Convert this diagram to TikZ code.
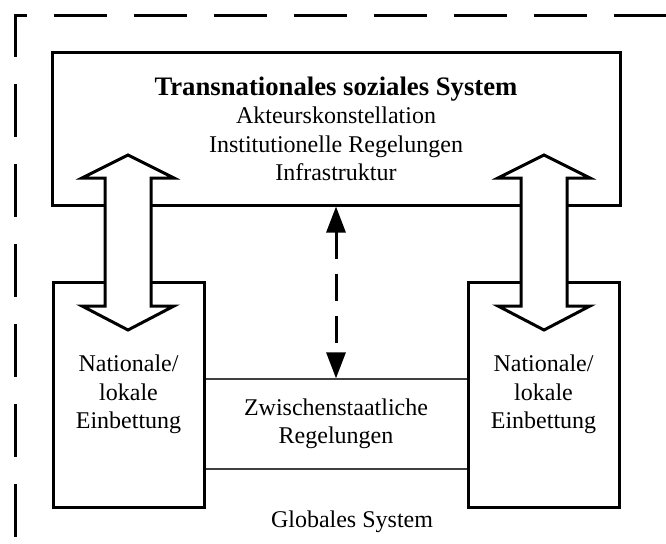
\documentclass[tikz,border=0pt]{standalone}
\usepackage{fontspec}
\setmainfont{Liberation Serif}
\usetikzlibrary{arrows.meta}

\begin{document}
\begin{tikzpicture}[x=1pt, y=-1pt,
  font=\fontsize{24}{28.5}\selectfont,
  box/.style={draw, line width=3pt, align=center, inner sep=0pt},
  thinbox/.style={draw=black!75, line width=1.2pt, align=center, inner sep=0pt},
  plaintext/.style={align=center, inner sep=0pt},
  blockarrow/.style={draw, fill=white, line width=3pt, line join=miter},
  frame/.style={line width=3pt, dash pattern=on 53pt off 27pt, dash phase=74pt},
  link/.style={line width=3pt, dash pattern=on 27pt off 15pt,
    {Triangle[width=19pt,length=26pt]}-{Triangle[width=19pt,length=26pt]}}]

\useasboundingbox (0,0) rectangle (666,543);

% outer frame (global system)
\coordinate (fb) at (15,543);
\coordinate (fc) at (15,16);
\coordinate (fr) at (666,16);
\draw [frame] (fb) -- (fc) -- (fr);

% boxes
\node [box, minimum width=568pt, minimum height=152pt] (trans) at (336,129)
  {{\fontsize{26.7}{28.5}\selectfont\bfseries Transnationales soziales System}\\Akteurskonstellation\\Institutionelle Regelungen\\Infrastruktur};
\node [thinbox, minimum width=264pt, minimum height=90pt] (zwi) at (336,424)
  {Zwischenstaatliche\\Regelungen};
\node [box, minimum width=151pt, minimum height=225pt] (natL) at (128.5,394.5)
  {Nationale/\\lokale\\Einbettung};
\node [box, minimum width=151pt, minimum height=225pt] (natR) at (543.5,394.5)
  {Nationale/\\lokale\\Einbettung};
\node [plaintext] (glob) at (352,522) {Globales System};

% up-down arrows
\coordinate (upL) at (128,155);
\coordinate (upR) at (544,155);
\draw [blockarrow] (upL) -- ++(46,23) -- ++(-23,0) -- ++(0,128) -- ++(23,0) -- ++(-46,24)
  -- ++(-46,-24) -- ++(23,0) -- ++(0,-128) -- ++(-23,0) -- cycle;
\draw [blockarrow] (upR) -- ++(46,23) -- ++(-23,0) -- ++(0,128) -- ++(23,0) -- ++(-46,24)
  -- ++(-46,-24) -- ++(23,0) -- ++(0,-128) -- ++(-23,0) -- cycle;

% dashed link
\draw [link] (trans.south) -- (zwi.north);

\end{tikzpicture}
\end{document}
